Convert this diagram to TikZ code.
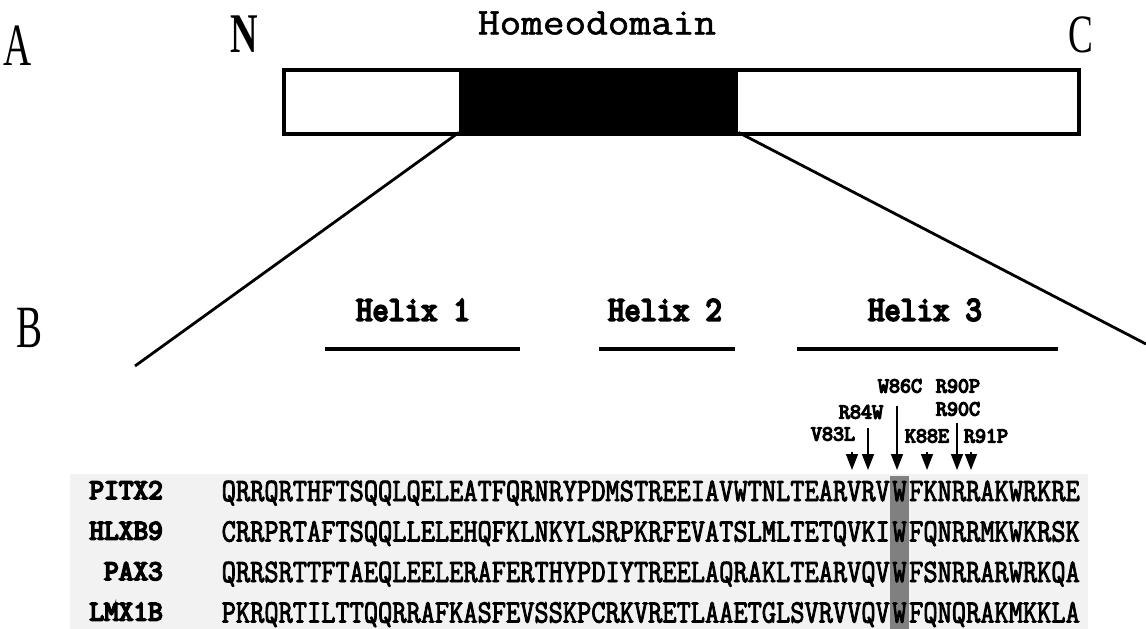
\documentclass[tikz,border=0pt]{standalone}
\usepackage{fontspec}
\setmainfont{Liberation Serif}
\newfontfamily\seqfont[FakeBold=3]{Latin Modern Mono}
\newfontfamily\labfont[FakeBold=6]{Latin Modern Mono}
\newfontfamily\hdfont[FakeBold=1.5]{Latin Modern Mono}
\usepackage{graphicx}
\usetikzlibrary{arrows.meta}

\begin{document}
\begin{tikzpicture}[x=1pt, y=-1pt,
  panel/.style={inner sep=0pt, font=\fontsize{60}{60}\selectfont},
  term/.style={inner sep=0pt, font=\bfseries\fontsize{56}{56}\selectfont},
  hdlabel/.style={inner sep=0pt, font=\hdfont\fontsize{42}{42}\selectfont},
  helix/.style={inner sep=0pt, font=\labfont\fontsize{31.5}{32}\selectfont},
  helixbar/.style={line width=4pt},
  gene/.style={inner sep=0pt, anchor=base east, font=\labfont\fontsize{28.5}{28}\selectfont},
  seq/.style={inner sep=0pt, font=\seqfont\fontsize{27.6}{28}\selectfont},
  mut/.style={inner sep=0pt, font=\labfont\fontsize{21.4}{21}\selectfont},
  mutarrow/.style={-{Triangle[length=16pt,width=12pt]}, line width=1.6pt}]
\useasboundingbox (0,0) rectangle (1146,629);

% A: protein with homeodomain
\node[panel] (A) at (18,46) {\scalebox{0.65}[1]{A}};
\node[term] (N) at (244,34) {\scalebox{0.68}[1]{N}};
\node[panel] (C) at (1081,35) {\scalebox{0.62}[0.9]{C}};
\node[hdlabel] (hdname) at (597,23) {\scalebox{1}[0.9]{Homeodomain}};
\node[draw, line width=4pt, inner sep=0pt, anchor=north west,
  minimum width=795, minimum height=64] (protein) at (282,68) {};
\node[fill=black, inner sep=0pt, anchor=north west,
  minimum width=279, minimum height=64] (hd) at (459,68) {};
\coordinate (zoomL) at (135,366);
\coordinate (zoomR) at (1146,344);
\draw[line width=2.8pt] (hd.south west) -- (zoomL);
\draw[line width=2.8pt] (hd.south east) -- (zoomR);

% B: alignment
\node[panel] (B) at (30,328) {\scalebox{0.65}[1]{B}};
\node[helix] (h1) at (413,310) {\scalebox{1}[1.1]{Helix 1}};
\node[helix] (h2) at (665,310) {\scalebox{1}[1.1]{Helix 2}};
\node[helix] (h3) at (925,310) {\scalebox{1}[1.1]{Helix 3}};
\draw[helixbar] (325,349) -- (520,349);
\draw[helixbar] (599,349) -- (735,349);
\draw[helixbar] (797,349) -- (1058,349);

\fill[black!5] (70,474) rectangle (1088,629);
\fill[gray] (890,476) rectangle (909,629);

\foreach \g/\pre/\post/\y in {
  PITX2/QRRQRTHFTSQQLQELEATFQRNRYPDMSTREEIAVWTNLTEARVRV/FKNRRAKWRKRE/501,
  HLXB9/CRRPRTAFTSQQLLELEHQFKLNKYLSRPKRFEVATSLMLTETQVKI/FQNRRMKWKRSK/541.5,
  PAX3/QRRSRTTFTAEQLEELERAFERTHYPDIYTREELAQRAKLTEARVQV/FSNRRARWRKQA/582,
  LMX1B/PKRQRTILTTQQRRAFKASFEVSSKPCRKVRETLAAETGLSVRVVQV/FQNQRAKMKKLA/622.5}
{
  \node[gene] (\g) at (163,\y-2) {\g};
  \node[seq, anchor=base east] (\g pre) at (890,\y) {\scalebox{1}[1.18]{\pre}};
  \node[seq, anchor=base] (\g w) at (899.5,\y) {\scalebox{1}[1.18]{W}};
  \node[seq, anchor=base west] (\g post) at (909,\y) {\scalebox{1}[1.18]{\post}};
}

% mutations
\node[mut] (W86C) at (900,386) {W86C};
\node[mut] (R90P) at (958,386) {R90P};
\node[mut] (R84W) at (861,412) {R84W};
\node[mut] (R90C) at (958,409) {R90C};
\node[mut] (V83L) at (833,434) {V83L};
\node[mut] (K88E) at (927,436) {K88E};
\node[mut] (R91P) at (986,436) {R91P};
\foreach \m/\x/\top in {v83/852/452, r84/868/428, w86/897/406,
  k88/927/452, r90/957/423, r91/971/452}
{
  \coordinate (\m top) at (\x,\top);
  \coordinate (\m) at (\x,470);
  \draw[mutarrow] (\m top) -- (\m);
}
\end{tikzpicture}
\end{document}
